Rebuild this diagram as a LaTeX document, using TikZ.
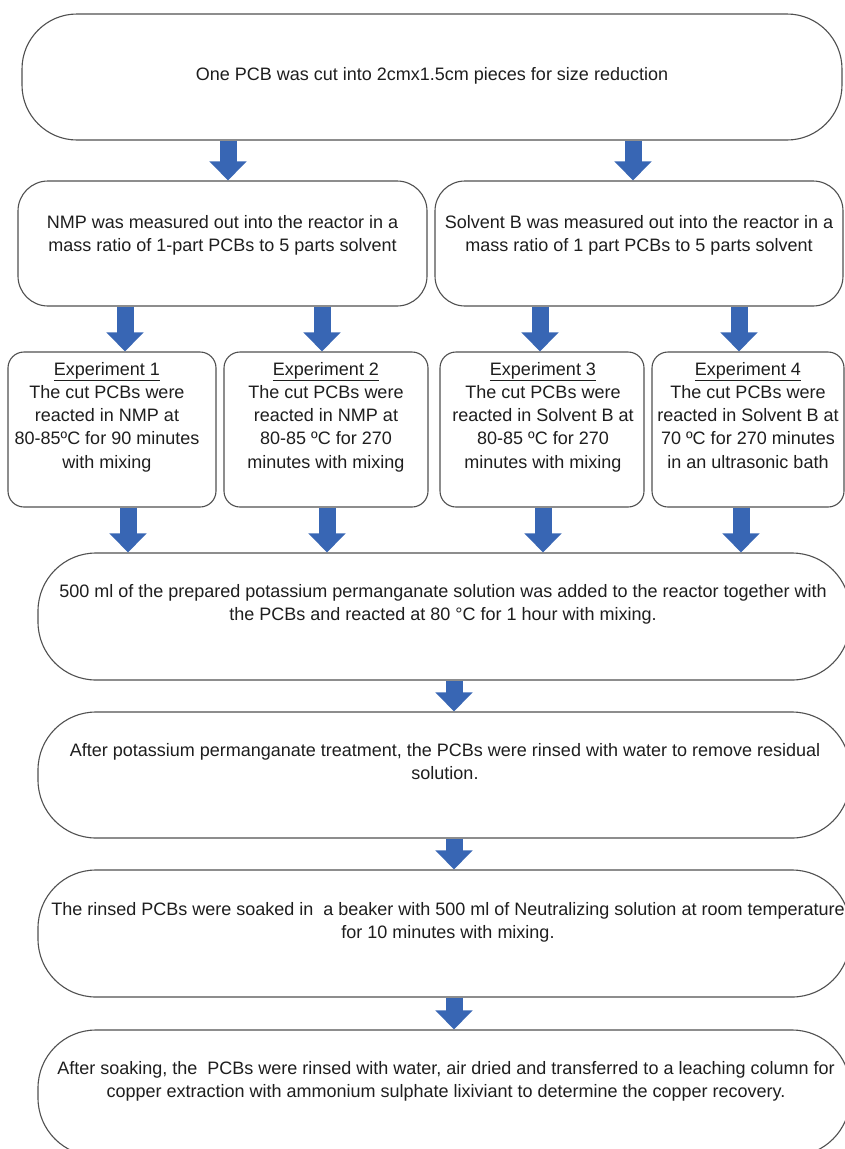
\documentclass[tikz,border=0pt]{standalone}
\usepackage{fontspec}
\setmainfont{Liberation Sans}
\usetikzlibrary{arrows.meta}
\definecolor{arrowblue}{RGB}{56,102,180}
\definecolor{boxline}{RGB}{80,80,80}
\definecolor{txtcol}{RGB}{30,30,30}
\begin{document}
\begin{tikzpicture}[x=1pt,y=-1pt,
  box/.style={draw=boxline, line width=1.1pt, fill=white, inner sep=0pt},
  bigbox/.style={box, rounded corners=58pt},
  midbox/.style={box, rounded corners=30pt},
  expbox/.style={box, rounded corners=16pt},
  txt/.style={font=\fontsize{18}{23.5}\selectfont, align=center, inner sep=0pt, text=txtcol, anchor=base},
  exptxt/.style={txt, font=\fontsize{18}{23.3}\selectfont},
  flow/.style={draw=arrowblue, line width=17pt, -{Triangle[width=36pt,length=19pt]}}]
\fill[white] (0,0) rectangle (845,1149);
\useasboundingbox (0,0) rectangle (845,1149);
\clip (0,0) rectangle (845,1149);

% boxes
\node[box, rounded corners=55pt, minimum width=820pt, minimum height=126pt] (A) at (432,77) {};
\node[midbox, minimum width=409pt, minimum height=125pt] (B1) at (222.5,243.5) {};
\node[midbox, minimum width=408pt, minimum height=125pt] (B2) at (639,243.5) {};
\node[expbox, minimum width=208pt, minimum height=155pt] (E1) at (112,429.5) {};
\node[expbox, minimum width=204pt, minimum height=155pt] (E2) at (326,429.5) {};
\node[expbox, minimum width=204pt, minimum height=155pt] (E3) at (542,429.5) {};
\node[expbox, minimum width=192pt, minimum height=155pt] (E4) at (748,429.5) {};
\node[bigbox, minimum width=812pt, minimum height=127pt] (C) at (444,616.5) {};
\node[bigbox, minimum width=812pt, minimum height=126pt] (D) at (444,775) {};
\node[bigbox, minimum width=812pt, minimum height=127pt] (E) at (444,933.5) {};
\node[bigbox, minimum width=812pt, minimum height=126pt] (F) at (444,1093) {};

% texts (anchor=base is the baseline of the last line)
\node[txt] (At) at (432,80.5) {One PCB was cut into 2cmx1.5cm pieces for size reduction};
\node[txt] (B1t) at (222.5,251.5) {NMP was measured out into the reactor in a\\mass ratio of 1-part PCBs to 5 parts solvent};
\node[txt] (B2t) at (639,251.5) {Solvent B was measured out into the reactor in a\\mass ratio of 1 part PCBs to 5 parts solvent};
\node[exptxt] (E1t) at (107,468.2) {\underline{Experiment 1}\\The cut PCBs were\\reacted in NMP at\\80-85ºC for 90 minutes\\with mixing};
\node[exptxt] (E2t) at (326,468.2) {\underline{Experiment 2}\\The cut PCBs were\\reacted in NMP at\\80-85 ºC for 270\\minutes with mixing};
\node[exptxt] (E3t) at (543,468.2) {\underline{Experiment 3}\\The cut PCBs were\\reacted in Solvent B at\\80-85 ºC for 270\\minutes with mixing};
\node[exptxt] (E4t) at (748,468.2) {\underline{Experiment 4}\\The cut PCBs were\\reacted in Solvent B at\\70 ºC for 270 minutes\\in an ultrasonic bath};
\node[txt] (Ct) at (443,620.5) {500 ml of the prepared potassium permanganate solution was added to the reactor together with\\the PCBs and reacted at 80 °C for 1 hour with mixing.};
\node[txt] (Dt) at (445,779.5) {After potassium permanganate treatment, the PCBs were rinsed with water to remove residual\\solution.};
\node[txt] (Et) at (448,938.5) {The rinsed PCBs were soaked in~ a beaker with 500 ml of Neutralizing solution at room temperature\\for 10 minutes with mixing.};
\node[txt] (Ft) at (446,1097.5) {After soaking, the~ PCBs were rinsed with water, air dried and transferred to a leaching column for\\copper extraction with ammonium sulphate lixiviant to determine the copper recovery.};

% arrow x positions
\coordinate (xa1) at (228,0);
\coordinate (xa2) at (633,0);
\coordinate (xi1) at (125,0);
\coordinate (xi2) at (322,0);
\coordinate (xi3) at (540,0);
\coordinate (xi4) at (739,0);
\coordinate (xo1) at (128,0);
\coordinate (xo2) at (327,0);
\coordinate (xo3) at (543,0);
\coordinate (xo4) at (741,0);
\coordinate (xm) at (454,0);

% arrows
\draw[flow] (A.south -| xa1) -- (B1.north -| xa1);
\draw[flow] (A.south -| xa2) -- (B2.north -| xa2);
\draw[flow] (B1.south -| xi1) -- (E1.north -| xi1);
\draw[flow] (B1.south -| xi2) -- (E2.north -| xi2);
\draw[flow] (B2.south -| xi3) -- (E3.north -| xi3);
\draw[flow] (B2.south -| xi4) -- (E4.north -| xi4);
\draw[flow] (E1.south -| xo1) -- (C.north -| xo1);
\draw[flow] (E2.south -| xo2) -- (C.north -| xo2);
\draw[flow] (E3.south -| xo3) -- (C.north -| xo3);
\draw[flow] (E4.south -| xo4) -- (C.north -| xo4);
\draw[flow] (C.south -| xm) -- (D.north -| xm);
\draw[flow] (D.south -| xm) -- (E.north -| xm);
\draw[flow] (E.south -| xm) -- (F.north -| xm);
\end{tikzpicture}
\end{document}
